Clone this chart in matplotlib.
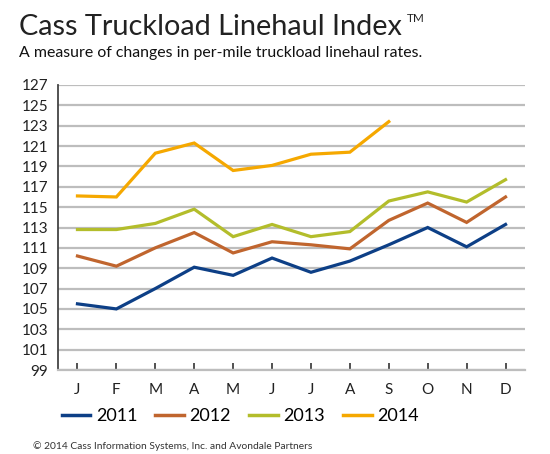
import numpy as np
import matplotlib.pyplot as plt
from matplotlib.lines import Line2D

plt.rcParams['font.family'] = ['Lato', 'DejaVu Sans']

# Monthly index values
months = ['J', 'F', 'M', 'A', 'M', 'J', 'J', 'A', 'S', 'O', 'N', 'D']
idx_2011 = [105.5, 105.0, 107.0, 109.1, 108.3, 110.0, 108.6, 109.7, 111.3, 113.0, 111.1, 113.3]
idx_2012 = [110.2, 109.2, 111.0, 112.5, 110.5, 111.6, 111.3, 110.9, 113.7, 115.4, 113.5, 116.0]
idx_2013 = [112.8, 112.8, 113.4, 114.8, 112.1, 113.3, 112.1, 112.6, 115.6, 116.5, 115.5, 117.7]
idx_2014 = [116.1, 116.0, 120.3, 121.3, 118.6, 119.1, 120.2, 120.4, 123.4]
years = ['2011', '2012', '2013', '2014']
colors = ['#0d3f86', '#c0652e', '#b3bd2b', '#f5a800']
yticks = list(range(99, 128, 2))

fig = plt.figure(figsize=(5.5, 4.54), dpi=100)
ax = fig.add_axes([58/550, 1-370/454, 467/550, 285/454])

series = [idx_2011, idx_2012, idx_2013, idx_2014]
x = np.arange(len(months))
for vals, c in zip(series, colors):
    ax.plot(x[:len(vals)], vals, color=c, lw=2.3, solid_joinstyle='miter', zorder=3)

ax.set_xlim(-0.5, 11.5)
ax.set_ylim(99, 127)
ax.set_yticks(yticks)
ax.set_yticklabels([str(v) for v in yticks], fontsize=11, color='#222222')
ax.set_xticks(x)
ax.set_xticklabels(months, fontsize=11, color='#222222')
ax.tick_params(axis='y', length=0, pad=7)
ax.tick_params(axis='x', direction='in', length=5, width=1.2, color='#333333', pad=9)
ax.grid(axis='y', color='#bdbdbd', lw=1.6, zorder=0)
for s in ['top', 'right']:
    ax.spines[s].set_visible(False)
ax.spines['left'].set_color('#444444')
ax.spines['left'].set_linewidth(1.3)
ax.spines['bottom'].set_color('#bdbdbd')
ax.spines['bottom'].set_linewidth(1.6)

title = fig.text(19/550, 1-35/454, 'Cass Truckload Linehaul Index', fontsize=20.8, color='#222222')
fig.canvas.draw()
bb = title.get_window_extent()
fig.text(bb.x1/550 + 5/550, 1-22/454, 'TM', fontsize=8.5, color='#222222')
fig.text(19/550, 1-57/454, 'A measure of changes in per-mile truckload linehaul rates.',
         fontsize=11.4, color='#111111')

handles = [Line2D([0], [0], color=c, lw=2.5) for c in colors]
fig.legend(handles, years, loc='center', bbox_to_anchor=(0.437, 1-416/454), ncol=4,
           frameon=False, fontsize=13, handlelength=1.6, columnspacing=1.0,
           handletextpad=0.3)

fig.text(33/550, 1-449/454, '\u00a9 2014 Cass Information Systems, Inc. and Avondale Partners',
         fontsize=7.4, color='#333333')

fig.savefig('out.png', dpi=100)
